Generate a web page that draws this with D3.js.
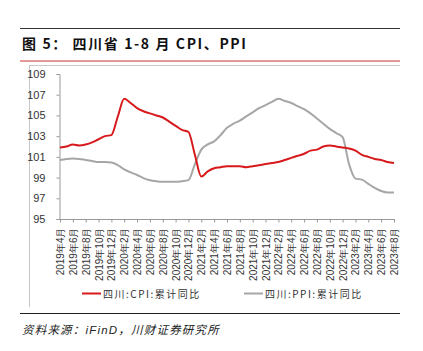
<!DOCTYPE html>
<html lang="zh">
<head>
<meta charset="UTF-8">
<title>四川省 1-8 月 CPI、PPI</title>
<script src="https://d3js.org/d3.v7.min.js"></script>
<style>
    body { margin: 0; background: #fff; }
    svg { display: block; }
    .axis path, .axis line { stroke: #999; }
    .axis text { fill: #333; }
</style>
</head>
<body>
<svg width="423" height="351"></svg>
<script>
// months 2019-04 .. 2023-08
const months = [];
for (let y = 2019; y <= 2023; y++) {
    for (let m = 1; m <= 12; m++) {
        if ((y === 2019 && m < 4) || (y === 2023 && m > 8)) continue;
        months.push(y + "年" + m + "月");
    }
}

const cpi = [101.9, 102.0, 102.2, 102.1, 102.2, 102.4, 102.7, 103.0, 103.1,
    104.9, 106.6, 106.2, 105.7, 105.4, 105.2, 105.0, 104.8, 104.4, 104.0, 103.6, 103.4,
    101.2, 99.1, 99.6, 99.9, 100.0, 100.1, 100.1, 100.1, 100.0, 100.1, 100.2, 100.3,
    100.4, 100.5, 100.7, 100.9, 101.1, 101.3, 101.6, 101.7, 102.0, 102.1, 102.0, 101.9,
    101.8, 101.6, 101.2, 101.0, 100.8, 100.7, 100.5, 100.4];

const ppi = [100.7, 100.8, 100.85, 100.8, 100.7, 100.6, 100.5, 100.5, 100.45,
    100.2, 99.8, 99.5, 99.25, 98.95, 98.75, 98.65, 98.6, 98.6, 98.6, 98.65, 98.75,
    100.3, 101.7, 102.2, 102.5, 103.1, 103.8, 104.2, 104.5, 104.9, 105.3, 105.7, 106.0,
    106.3, 106.6, 106.4, 106.2, 105.9, 105.6, 105.2, 104.7, 104.2, 103.7, 103.3, 102.9,
    100.3, 98.9, 98.8, 98.4, 98.0, 97.7, 97.55, 97.55];

const yTicks = [95, 97, 99, 101, 103, 105, 107, 109];
const seriesNames = ["四川:CPI:累计同比", "四川:PPI:累计同比"];

const svg = d3.select("svg");
const cjk = "'Noto Sans CJK SC', sans-serif";
const latin = "'Liberation Sans', Arial, sans-serif";

// header rules and title
svg.append("line").attr("x1", 20).attr("x2", 400).attr("y1", 28.5).attr("y2", 28.5)
    .attr("stroke", "#333").attr("stroke-width", 1);
svg.append("text").attr("x", 22).attr("y", 49)
    .attr("font-family", cjk).attr("font-weight", "bold").attr("font-size", 14)
    .attr("letter-spacing", 1.6).attr("fill", "#111")
    .text("图 5： 四川省 1-8 月 CPI、PPI");
svg.append("line").attr("x1", 20).attr("x2", 400).attr("y1", 61).attr("y2", 61)
    .attr("stroke", "#e59a9a").attr("stroke-width", 2);

// chart frame
svg.append("path").attr("d", "M29.5,307V65.5H400")
    .attr("fill", "none").attr("stroke", "#c8c8c8").attr("stroke-width", 1);

const x = d3.scalePoint().domain(months).range([60, 394]);
const y = d3.scaleLinear().domain([95, 109]).range([219, 74]);

// y axis
const yAxis = svg.append("g").attr("class", "axis")
    .attr("transform", "translate(59.5,0)")
    .call(d3.axisLeft(y).tickValues(yTicks).tickSize(3).tickPadding(11));
yAxis.selectAll("text").attr("font-family", latin).attr("font-size", 11);

// x axis
const xAxis = svg.append("g").attr("class", "axis")
    .attr("transform", "translate(0,219.5)")
    .call(d3.axisBottom(x).tickValues(months.filter((d, i) => i % 2 === 0)).tickSize(3));
xAxis.select(".domain").attr("d", "M59.5,0H395");
xAxis.selectAll("text")
    .attr("font-family", latin).attr("font-size", 10)
    .attr("transform", "rotate(-90)")
    .attr("text-anchor", "end")
    .attr("x", -8).attr("y", 0).attr("dy", "0.35em");

const line = d3.line()
    .x((d, i) => x(months[i]))
    .y(d => y(d))
    .curve(d3.curveMonotoneX);

svg.append("path").datum(ppi)
    .attr("fill", "none").attr("stroke", "#a6a6a6").attr("stroke-width", 2)
    .attr("d", line);
svg.append("path").datum(cpi)
    .attr("fill", "none").attr("stroke", "#d7191c").attr("stroke-width", 2)
    .attr("d", line);

// legend
const legend = [
    { name: seriesNames[0], color: "#d7191c", x: 82 },
    { name: seriesNames[1], color: "#a6a6a6", x: 244 }
];
legend.forEach(l => {
    svg.append("line").attr("x1", l.x).attr("x2", l.x + 19)
        .attr("y1", 293.5).attr("y2", 293.5)
        .attr("stroke", l.color).attr("stroke-width", 2);
    svg.append("text").attr("x", l.x + 21).attr("y", 297.5)
        .attr("font-family", cjk).attr("font-size", 10).attr("letter-spacing", 1.5)
        .attr("fill", "#333")
        .text(l.name);
});

// footer
svg.append("line").attr("x1", 20).attr("x2", 400).attr("y1", 313.5).attr("y2", 313.5)
    .attr("stroke", "#222").attr("stroke-width", 1.2);
const src = svg.append("text").attr("x", 22).attr("y", 334)
    .attr("font-size", 11.5).attr("fill", "#222").attr("font-style", "italic")
    .attr("letter-spacing", 1.2);
src.append("tspan").attr("font-family", cjk).text("资料来源：");
src.append("tspan").attr("font-family", latin).text("iFinD");
src.append("tspan").attr("font-family", cjk).text("，川财证券研究所");
</script>
</body>
</html>
